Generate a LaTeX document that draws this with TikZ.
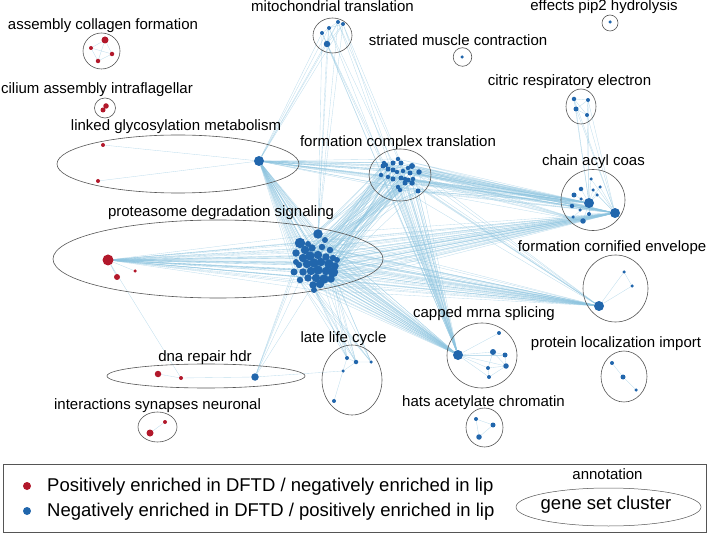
\documentclass[tikz,border=0pt]{standalone}
\usepackage{fontspec}
\setmainfont{Liberation Sans}
\usetikzlibrary{backgrounds}
\definecolor{upred}{RGB}{178,24,43}
\definecolor{downblue}{RGB}{33,102,172}
\definecolor{linkblue}{RGB}{140,195,222}
\definecolor{ringgray}{RGB}{85,85,85}

\begin{document}
\begin{tikzpicture}[x=1pt,y=-1pt,
  reddot/.style={circle,fill=upred,inner sep=0pt,minimum size=#1},
  bluedot/.style={circle,fill=downblue,inner sep=0pt,minimum size=#1},
  link/.style={draw=linkblue,line width=0.35pt,opacity=0.55},
  ring/.style={draw=ringgray,line width=0.6pt},
  clabel/.style={anchor=base,inner sep=0pt,font=\fontsize{15}{18}\selectfont},
  keytext/.style={anchor=base west,inner sep=0pt,font=\fontsize{18.5}{22}\selectfont}]
\useasboundingbox (0,0) rectangle (709,534);

% cluster outlines
\draw[ring] (101.5,51) ellipse [x radius=18.5pt,y radius=18pt];
\draw[ring] (105,108) ellipse [x radius=10.5pt,y radius=10pt];
\draw[ring] (178,164) ellipse [x radius=121pt,y radius=29pt];
\draw[ring] (218,259) ellipse [x radius=165pt,y radius=39pt];
\draw[ring] (332.5,35.5) ellipse [x radius=19.5pt,y radius=17.5pt];
\draw[ring] (610,23) circle [radius=8pt];
\draw[ring] (462.5,57) circle [radius=9.3pt];
\draw[ring] (581,106.5) ellipse [x radius=15pt,y radius=17.5pt];
\draw[ring] (400,175) ellipse [x radius=31pt,y radius=26pt];
\draw[ring] (593,200) ellipse [x radius=32pt,y radius=30.5pt];
\draw[ring] (615.5,288.5) ellipse [x radius=32.5pt,y radius=33.5pt];
\draw[ring] (482,355.5) ellipse [x radius=35pt,y radius=32.5pt];
\draw[ring] (624,376.5) ellipse [x radius=23pt,y radius=25.5pt];
\draw[ring] (484.5,427.5) ellipse [x radius=18.5pt,y radius=19.5pt];
\draw[ring] (352,380) ellipse [x radius=30pt,y radius=35pt];
\draw[ring] (206,376) ellipse [x radius=99pt,y radius=12pt];
\draw[ring] (157.5,427) ellipse [x radius=19.5pt,y radius=15pt];

% cluster names
\node[clabel] (lcol) at (103,30) {assembly collagen formation};
\node[clabel] (lcil) at (97,94) {cilium assembly intraflagellar};
\node[clabel] (lgly) at (176,131) {linked glycosylation metabolism};
\node[clabel] (lpro) at (221,217) {proteasome degradation signaling};
\node[clabel] (lmit) at (332.5,11.5) {mitochondrial translation};
\node[clabel] (lpip) at (604,11) {effects pip2 hydrolysis};
\node[clabel] (lstr) at (458,46) {striated muscle contraction};
\node[clabel] (lcit) at (569.5,86) {citric respiratory electron};
\node[clabel] (lfct) at (398,147) {formation complex translation};
\node[clabel] (lcac) at (593.5,166) {chain acyl coas};
\node[clabel] (lfce) at (612,252) {formation cornified envelope};
\node[clabel] (lcms) at (484,318) {capped mrna splicing};
\node[clabel] (lpli) at (616,348) {protein localization import};
\node[clabel] (lhat) at (483.5,406) {hats acetylate chromatin};
\node[clabel] (llat) at (343.5,342) {late life cycle};
\node[clabel] (ldna) at (205,361) {dna repair hdr};
\node[clabel] (lsyn) at (157.5,409) {interactions synapses neuronal};

% red gene sets
\node[reddot=7] (co1) at (105,40) {};
\node[reddot=4] (co2) at (91,48) {};
\node[reddot=4.5] (co3) at (112,54) {};
\node[reddot=4.5] (co4) at (98,61) {};
\node[reddot=5.5] (ci1) at (106,106) {};
\node[reddot=5] (ci2) at (103,110) {};
\node[reddot=4] (gr1) at (103,145) {};
\node[reddot=4] (gr2) at (98,181) {};
\node[reddot=11] (rdA) at (108,260) {};
\node[reddot=6] (rdB) at (117,277) {};
\node[reddot=3.5] (rdC) at (135,271) {};
\node[reddot=6.5] (dnR1) at (158,374) {};
\node[reddot=4] (dnR2) at (181,378) {};
\node[reddot=7] (sy1) at (150,433) {};
\node[reddot=4] (sy2) at (165,422) {};

% blue gene sets
\node[bluedot=10] (glB) at (259,161) {};
\node[bluedot=7.5] (dnB) at (255,377) {};
\node[bluedot=6.5] (mt1) at (327,44) {};
\node[bluedot=4] (mt2) at (322,33) {};
\node[bluedot=4] (mt3) at (329,28) {};
\node[bluedot=4] (mt4) at (338,22) {};
\node[bluedot=4] (mt5) at (343,24) {};
\node[bluedot=3.5] (pp1) at (610,22) {};
\node[bluedot=3.5] (st1) at (462,57) {};
\node[bluedot=4.5] (ct1) at (574,99) {};
\node[bluedot=4] (ct2) at (588,100) {};
\node[bluedot=5] (ct3) at (576,109) {};
\node[bluedot=4] (ct4) at (587,115) {};
\foreach \n/\x/\y/\d in {1/318/234/9.5, 2/300/243/10.5, 3/305/250/8.5, 4/312/248/7.5, 5/322/247/6.5,
    6/330/250/6.5, 7/296/253/7.5, 8/303/258/8.5, 9/310/256/9.5, 10/318/255/8.5, 11/326/257/7.5,
    12/333/258/6.5, 13/299/265/6.5, 14/307/264/8.5, 15/314/263/9.5, 16/321/262/8.5, 17/329/264/9.5,
    18/335/266/7.5, 19/294/272/7, 20/303/272/7.5, 21/311/271/8.5, 22/318/270/9.5, 23/326/271/8.5,
    24/333/272/10.5, 25/300/280/6.5, 26/308/278/7.5, 27/316/278/8.5, 28/324/279/9.5, 29/331/279/7.5,
    30/313/285/7.5, 31/320/284/8.5, 32/314/290/6, 33/308/244/6, 34/325/240/6, 35/296/262/6,
    36/337/260/6}
  \node[bluedot=\d] (pr\n) at (\x,\y) {};
\foreach \n/\x/\y/\d in {1/383/166/5, 2/384/163/4.5, 3/393/163/5, 4/398/159/4.5, 5/401/163/5,
    6/412/166/6, 7/419/172/5.5, 8/381/175/4.5, 9/388/169/5, 10/393/170/5, 11/397/172/4.5,
    12/403/171/4.5, 13/410/173/5, 14/413/179/4.5, 15/388/177/4.5, 16/393/179/5,
    17/401/178/5, 18/405/179/4.5, 19/408/180/5, 20/405/183/5, 21/412/183/5.5,
    22/398/187/4.5, 23/400/190/4.5, 24/418/191/5, 25/386/165/4.5, 26/408/168/4.5}
  \node[bluedot=\d] (fc\n) at (\x,\y) {};
\foreach \n/\x/\y/\d in {1/591/179/3.5, 2/600/187/3.5, 3/581/189/4.5, 4/593/190/3.5,
    5/574/195/5, 6/597/195/3.5, 7/581/199/3.5, 8/589/203/10, 9/572/206/4.5, 10/580/210/3.5,
    11/589/214/4, 12/573/217/3.5, 13/583/221/5.5, 14/615/213/10}
  \node[bluedot=\d] (ca\n) at (\x,\y) {};
\node[bluedot=3.5] (fe1) at (624,272) {};
\node[bluedot=3.5] (fe2) at (632,286) {};
\node[bluedot=10] (fe3) at (599,306) {};
\foreach \n/\x/\y/\d in {1/499/333/4, 2/458/355/10, 3/493/352/6, 4/505/355/5,
    5/506/366/5.5, 6/488/368/4, 7/489/377/4}
  \node[bluedot=\d] (cm\n) at (\x,\y) {};
\node[bluedot=4] (pl1) at (612,363) {};
\node[bluedot=5] (pl2) at (623,377) {};
\node[bluedot=3.5] (pl3) at (636,390) {};
\node[bluedot=4] (ha1) at (476,419) {};
\node[bluedot=5] (ha2) at (493,425) {};
\node[bluedot=5.5] (ha3) at (479,437) {};
\node[bluedot=4] (ll1) at (347,358) {};
\node[bluedot=4.5] (ll2) at (356,362) {};
\node[bluedot=3.5] (ll3) at (343,371) {};
\node[bluedot=3.5] (ll4) at (371,362) {};
\node[bluedot=4] (ll5) at (334,401) {};

% shared genes
\begin{scope}[on background layer]
  \foreach \i in {1,...,36} {
    \pgfmathtruncatemacro\j{mod(\i*7,26)+1}
    \pgfmathtruncatemacro\k{mod(\i*3+5,26)+1}
    \draw[link] (pr\i) -- (rdA) (pr\i) -- (glB) (pr\i) -- (ca14) (pr\i) -- (fe3)
      (pr\i) -- (cm2) (pr\i) -- (fc\j) (pr\i) -- (fc\k);
  }
  \foreach \i in {2,9,15,22,24,28} \draw[link] (pr\i) -- (rdA);
  \foreach \i in {4,11,19,24,30,32} \draw[link] (pr\i) -- (ll1) (pr\i) -- (ll2) (pr\i) -- (ll4);
  \foreach \i in {13,19,25,30,35} \draw[link] (pr\i) -- (dnB);
  \foreach \j in {1,...,26} {
    \draw[link] (fc\j) -- (glB) (fc\j) -- (ca8) (fc\j) -- (ca14) (fc\j) -- (cm2);
  }
  \foreach \j in {2,6,10,14,18,22,26} \draw[link] (fc\j) -- (fe3) (fc\j) -- (ca13);
  \foreach \m in {1,...,5} {
    \draw[link] (mt\m) -- (glB) (mt\m) -- (cm2) (mt\m) -- (fc\m) (mt\m) -- (pr1);
    \draw[link] (mt1) -- (mt\m);
  }
  \draw[link] (mt2) -- (mt3) -- (mt4) -- (mt5) -- (mt3);
  \foreach \c in {1,...,4} \draw[link] (ct\c) -- (ca14) (ct\c) -- (ca8);
  \draw[link] (ct1) -- (ct2) -- (ct4) -- (ct3) -- (ct1) -- (ct4) (ct2) -- (ct3);
  \foreach \a in {1,...,13} \draw[link] (ca8) -- (ca\a);
  \foreach \a in {1,2,4,6,11} \draw[link] (ca14) -- (ca\a);
  \draw[link] (fe3) -- (fe1) -- (fe2) -- (fe3);
  \foreach \a in {1,3,4,5,6,7} \draw[link] (cm2) -- (cm\a);
  \draw[link] (cm3) -- (cm4) -- (cm5) -- (cm6) -- (cm3) -- (cm5) -- (cm7) -- (cm6);
  \draw[link] (pl1) -- (pl2) -- (pl3);
  \draw[link] (ha1) -- (ha2) -- (ha3) -- (ha1);
  \draw[link] (ll1) -- (ll2) -- (ll4) (ll1) -- (ll3) -- (ll5) (ll2) -- (ll3);
  \draw[link] (co1) -- (co2) -- (co4) -- (co3) -- (co1) (co2) -- (co3) (co1) -- (co4);
  \draw[link] (ci1) -- (ci2);
  \draw[link] (gr1) -- (glB) (gr2) -- (glB);
  \draw[link] (rdA) -- (rdB) (rdA) -- (rdC) (rdA) -- (dnR2);
  \draw[link] (dnR1) -- (dnR2) -- (dnB) -- (ll3);
  \draw[link] (sy1) -- (sy2);
\end{scope}

% key
\draw[ringgray,line width=0.8pt] (3,464) rectangle (706,532);
\node[reddot=8] (keyup) at (27,486) {};
\node[bluedot=8] (keydown) at (27,511) {};
\node[keytext] (tup) at (47,491) {Positively enriched in DFTD / negatively enriched in lip};
\node[keytext] (tdown) at (47,516) {Negatively enriched in DFTD / positively enriched in lip};
\node[anchor=base,inner sep=0pt,font=\fontsize{15}{18}\selectfont] (tann) at (607.5,479.5) {annotation};
\draw[ringgray,line width=0.5pt] (608.5,507) ellipse [x radius=92.5pt,y radius=19pt];
\node[anchor=base,inner sep=0pt,font=\fontsize{18.5}{22}\selectfont] (tset) at (606,509.5) {gene set cluster};
\end{tikzpicture}
\end{document}
